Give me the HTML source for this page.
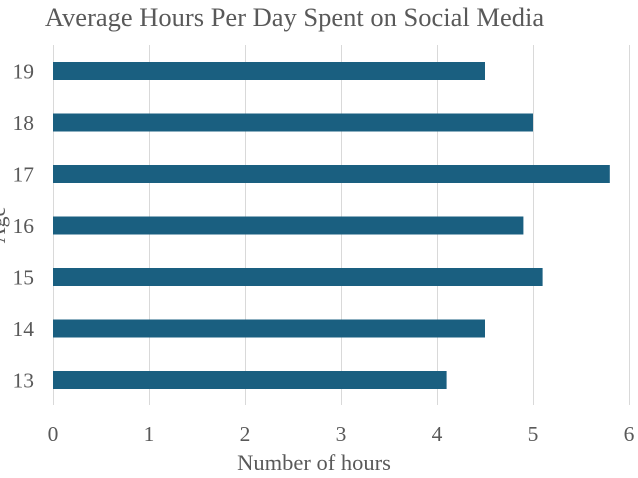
<!DOCTYPE html>
<html><head><meta charset="utf-8"><style>
html,body{margin:0;padding:0;background:#fff;}
svg{display:block;font-family:"Liberation Serif",serif;}
</style></head><body>
<svg width="638" height="478" viewBox="0 0 638 478" xmlns="http://www.w3.org/2000/svg">
<rect width="638" height="478" fill="#fff"/>
<text x="294.5" y="26" font-size="26.5" fill="#595959" text-anchor="middle">Average Hours Per Day Spent on Social Media</text>
<g stroke="#d9d9d9" stroke-width="1">
<line x1="53.5" y1="45" x2="53.5" y2="405"/>
<line x1="149.5" y1="45" x2="149.5" y2="405"/>
<line x1="245.5" y1="45" x2="245.5" y2="405"/>
<line x1="341.5" y1="45" x2="341.5" y2="405"/>
<line x1="437.5" y1="45" x2="437.5" y2="405"/>
<line x1="533.5" y1="45" x2="533.5" y2="405"/>
<line x1="629.5" y1="45" x2="629.5" y2="405"/>
</g>
<g fill="#1a5f80">
<rect x="53" y="62" width="432" height="18"/>
<rect x="53" y="113.5" width="480" height="18"/>
<rect x="53" y="165" width="556.8" height="18"/>
<rect x="53" y="216.5" width="470.4" height="18"/>
<rect x="53" y="268" width="489.6" height="18"/>
<rect x="53" y="319.5" width="432" height="18"/>
<rect x="53" y="371" width="393.6" height="18"/>
</g>
<g font-size="21.5" fill="#595959" text-anchor="end">
<text x="34" y="78.5">19</text>
<text x="34" y="130">18</text>
<text x="34" y="181.5">17</text>
<text x="34" y="233">16</text>
<text x="34" y="284.5">15</text>
<text x="34" y="336">14</text>
<text x="34" y="387.5">13</text>
</g>
<g font-size="21.5" fill="#595959" text-anchor="middle">
<text x="53" y="441">0</text>
<text x="149" y="441">1</text>
<text x="245" y="441">2</text>
<text x="341" y="441">3</text>
<text x="437" y="441">4</text>
<text x="533" y="441">5</text>
<text x="629" y="441">6</text>
</g>
<text x="314" y="470" font-size="22.5" fill="#595959" text-anchor="middle">Number of hours</text>
<text transform="translate(5,225) rotate(-90)" font-size="22" fill="#595959" text-anchor="middle">Age</text>
</svg>
</body></html>
